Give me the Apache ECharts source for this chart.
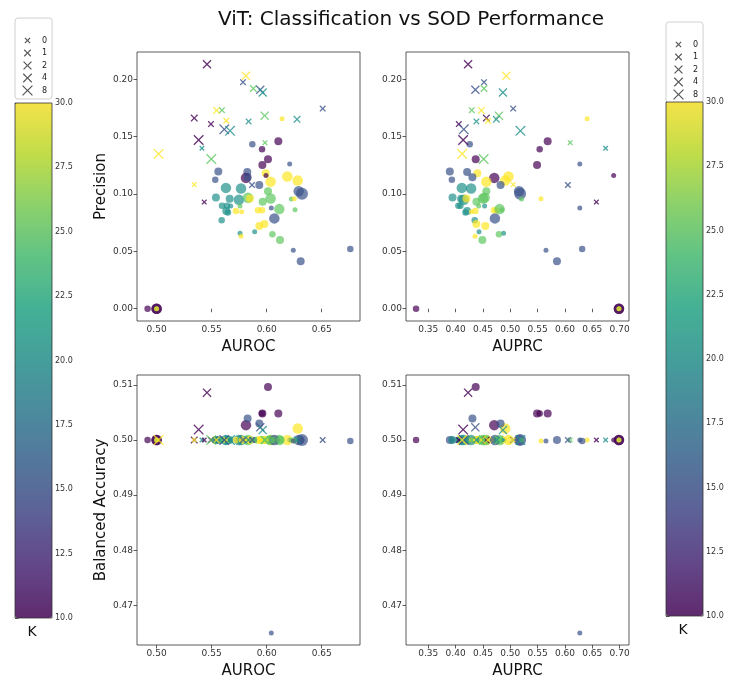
<!DOCTYPE html>
<html><head><meta charset="utf-8">
<script src="https://cdn.jsdelivr.net/npm/echarts@6/dist/echarts.min.js"></script>
<style>html,body{margin:0;padding:0;background:#fff}#c{width:736px;height:684px}</style>
</head><body><div id="c"></div>
<script>
// ---------- tick labels ----------
const kTicks = [10, 12.5, 15, 17.5, 20, 22.5, 25, 27.5, 30];
const aurocTicks = [0.50, 0.55, 0.60, 0.65];
const auprcTicks = [0.35, 0.40, 0.45, 0.50, 0.55, 0.60, 0.65, 0.70];
const precTicks = [0.00, 0.05, 0.10, 0.15, 0.20];
const baccTicks = [0.47, 0.48, 0.49, 0.50, 0.51];
const rLevels = [0, 1, 2, 4, 8];

// ---------- "x" marker runs ----------
const crossAUROC = [0.5458,0.5812,0.5785,0.5879,0.5942,0.5964,0.6509,0.5342,0.5545,0.5594,0.5982,0.6276,0.5633,0.5494,0.5836,0.5615,0.5667,0.5382,0.5412,0.5985,0.5018,0.5497,0.5342,0.5433,0.5867];
const crossAUPRC = [0.4228,0.4926,0.4519,0.4519,0.4361,0.4865,0.5053,0.4562,0.4471,0.4295,0.4792,0.4744,0.4592,0.4058,0.4380,0.4149,0.5186,0.4137,0.6745,0.6096,0.4119,0.4513,0.5053,0.6575,0.6054];
const crossPrec  = [0.2130,0.2029,0.1974,0.1919,0.1908,0.1884,0.1744,0.1661,0.1728,0.1730,0.1682,0.1650,0.1638,0.1609,0.1632,0.1563,0.1550,0.1470,0.1398,0.1447,0.1349,0.1305,0.1082,0.0929,0.1078];
const crossBAcc  = [0.5086,0.5000,0.5000,0.5000,0.5023,0.5018,0.5000,0.5000,0.5000,0.5000,0.5000,0.5000,0.5000,0.5000,0.5000,0.5000,0.5000,0.5019,0.5000,0.5000,0.5000,0.5000,0.5000,0.5000,0.5000];
const crossK     = [10,30,15,25,15,20,15,10,30,25,25,20,30,10,20,15,20,10,20,25,30,25,30,10,15];
const crossR     = [4,4,1,2,4,4,1,2,2,1,4,2,1,1,1,8,8,8,0,0,8,8,0,0,1];

// ---------- circle marker runs ----------
const circAUROC = [0.4918,0.5000,0.5000,0.5000,0.5000,0.6140,0.6106,0.5870,0.5958,0.6012,0.5961,0.6209,0.5561,0.5824,0.5991,0.5994,0.5533,0.5812,0.5827,0.6188,0.6282,0.6036,0.5933,0.5630,0.5767,0.6291,0.6321,0.6012,0.5539,0.5664,0.5748,0.5830,0.5848,0.6036,0.5964,0.6224,0.6251,0.5594,0.5639,0.5673,0.5633,0.5648,0.5758,0.5721,0.5773,0.5921,0.5958,0.6042,0.6115,0.6258,0.5591,0.6070,0.5933,0.5979,0.5758,0.5767,0.5891,0.6052,0.6121,0.6242,0.6309,0.6760];
const circAUPRC = [0.3276,0.6988,0.6988,0.6988,0.6988,0.6406,0.5684,0.4258,0.5538,0.4367,0.5490,0.6272,0.3894,0.4210,0.4398,0.6891,0.3931,0.4707,0.4307,0.4968,0.4907,0.4562,0.4822,0.4113,0.4283,0.5162,0.5180,0.4562,0.3943,0.4100,0.4150,0.4531,0.4198,0.4500,0.4380,0.5205,0.5562,0.4088,0.4050,0.4530,0.4210,0.4180,0.4422,0.4361,0.4290,0.4744,0.4700,0.6272,0.4804,0.4850,0.4349,0.4719,0.4543,0.4380,0.4877,0.4355,0.4428,0.4792,0.4489,0.5653,0.5854,0.6315];
const circPrec  = [0.0000,0.0000,0.0000,0.0000,0.0000,0.1655,0.1459,0.1433,0.1389,0.1302,0.1253,0.1262,0.1195,0.1192,0.1181,0.1160,0.1123,0.1140,0.1146,0.1152,0.1117,0.1106,0.1077,0.1053,0.1048,0.1024,0.1001,0.1024,0.0970,0.0958,0.0949,0.0967,0.0960,0.0961,0.0932,0.0955,0.0958,0.0897,0.0897,0.0894,0.0851,0.0839,0.0894,0.0851,0.0845,0.0857,0.0857,0.0877,0.0868,0.0862,0.0770,0.0787,0.0721,0.0738,0.0657,0.0631,0.0671,0.0648,0.0599,0.0509,0.0414,0.0521];
const circBAcc  = [0.5000,0.5000,0.5000,0.5000,0.5000,0.5000,0.5048,0.5000,0.5048,0.5096,0.5048,0.5000,0.5000,0.5000,0.5000,0.5000,0.5000,0.5027,0.5039,0.5000,0.5021,0.5000,0.5030,0.5000,0.5000,0.5000,0.5000,0.5000,0.5000,0.5000,0.5000,0.5000,0.5000,0.5000,0.5000,0.5000,0.4998,0.5000,0.5000,0.5000,0.5000,0.5000,0.5000,0.5000,0.5000,0.5000,0.5000,0.4650,0.5000,0.5000,0.5000,0.5000,0.5000,0.5000,0.5000,0.5000,0.5000,0.5000,0.5000,0.4998,0.5000,0.4998];
const circK     = [10,10,10,25,30,30,10,15,10,10,10,15,15,15,30,10,15,10,15,30,30,30,15,20,20,15,15,25,20,20,20,25,30,25,25,25,30,20,20,20,20,20,25,30,30,30,30,15,25,25,20,15,30,30,20,30,20,25,25,15,15,15];
const circR     = [1,4,4,0,0,0,2,1,1,2,2,0,2,2,2,0,1,4,2,4,4,4,2,4,4,4,8,2,2,2,4,4,2,4,2,0,0,1,1,0,2,1,0,1,0,1,1,0,4,0,1,4,2,2,0,0,0,1,2,0,2,1];

// ---------- styling helpers ----------
const FONT = 'DejaVu Sans';
const viridis = ['#440154','#482475','#414487','#355f8d','#2a788e','#21918c','#22a884','#44bf70','#7ad151','#bddf26','#fde725'];
function hexA(h, a){const n=parseInt(h.slice(1),16);return `rgba(${n>>16},${(n>>8)&255},${n&255},${a})`;}
const crossPx  = {0:5.5, 1:6.5, 2:7.5, 4:9, 8:10.5};
const circPx   = {0:5, 1:6.5, 2:8, 4:10.5, 8:12};
const legendPx = {0:6, 1:7.3, 2:8.7, 4:9.3, 8:10.7};
function xShape(size, pad, lw){
  const w = (lw || 0.65) / size * 100, d = w * Math.SQRT2;
  const o = pad || 0;
  const pre = o ? `M${-o},${-o}M${100+o},${100+o}` : '';
  return `path://${pre}M0,${d}L${d},0L50,${50-d}L${100-d},0L100,${d}L${50+d},50L100,${100-d}L${100-d},100L50,${50+d}L${d},100L0,${100-d}L${50-d},50Z`;
}
function legendIcon(r){
  const s = legendPx[r]; const box = 11;
  const o = ((box / s) * 100 - 100) / 2;
  return xShape(s, o, 0.6);
}

function rows(xs, ys, ks, rs){ return xs.map((x,i)=>[x, ys[i], ks[i], rs[i]]); }

function xAxisDef(gi, min, max, ticks, name){
  return {type:'value', gridIndex:gi, min, max, name, nameLocation:'middle', nameGap:19,
    nameTextStyle:{fontSize:15, color:'#111', fontFamily:FONT},
    axisLine:{show:false}, splitLine:{show:false},
    axisTick:{show:true, length:3.5, lineStyle:{color:'#333', width:0.8}, customValues:ticks},
    axisLabel:{fontSize:9, color:'#333', fontFamily:FONT, margin:4, customValues:ticks, formatter:v=>v.toFixed(2)}};
}
function yAxisDef(gi, min, max, ticks, name){
  return {type:'value', gridIndex:gi, min, max, name, nameLocation:'middle', nameGap:27, nameRotate:90,
    nameTextStyle:{fontSize:15, color:'#111', fontFamily:FONT},
    axisLine:{show:false}, splitLine:{show:false},
    axisTick:{show:true, length:3.5, lineStyle:{color:'#333', width:0.8}, customValues:ticks},
    axisLabel:{fontSize:9, color:'#333', fontFamily:FONT, margin:4, customValues:ticks, formatter:v=>v.toFixed(2)}};
}
const frame = {show:true, borderColor:'#333', borderWidth:0.8, backgroundColor:'transparent'};

const panels = [
  {xs:[circAUROC, crossAUROC], ys:[circPrec, crossPrec]},
  {xs:[circAUPRC, crossAUPRC], ys:[circPrec, crossPrec]},
  {xs:[circAUROC, crossAUROC], ys:[circBAcc, crossBAcc]},
  {xs:[circAUPRC, crossAUPRC], ys:[circBAcc, crossBAcc]}
];
const series = [];
panels.forEach((p, i) => {
  series.push({type:'scatter', xAxisIndex:i, yAxisIndex:i, name:'circ'+i,
    data: rows(p.xs[0], p.ys[0], circK, circR),
    symbol:'circle', symbolSize: v => circPx[v[3]],
    itemStyle:{opacity:0.7}, emphasis:{disabled:true}, z:2});
  series.push({type:'scatter', xAxisIndex:i, yAxisIndex:i, name:'cross'+i,
    data: rows(p.xs[1], p.ys[1], crossK, crossR),
    symbol: v => xShape(crossPx[v[3]]), symbolSize: v => crossPx[v[3]],
    itemStyle:{opacity:0.8}, emphasis:{disabled:true}, z:3});
});
// legend-only series (marker size encodes r)
rLevels.forEach(r => series.push({type:'scatter', name:String(r), data:[], xAxisIndex:0, yAxisIndex:0, itemStyle:{color:'#555'}}));

function cbAxes(gi){
  return {
    x:{type:'value', gridIndex:gi, min:0, max:1, show:false},
    y:{type:'value', gridIndex:gi, min:10, max:30, interval:2.5, position:'right',
       axisLine:{show:false}, splitLine:{show:false},
       axisTick:{show:true, length:3.5, lineStyle:{color:'#333', width:0.8}},
       axisLabel:{fontSize:8, color:'#333', fontFamily:FONT, margin:3, formatter:v=>v.toFixed(1)}}
  };
}
const cb1 = cbAxes(4), cb2 = cbAxes(5);

function legendDef(left, top){
  return {orient:'vertical', left, top, padding:[17,5,3,7], itemWidth:11, itemHeight:11, itemGap:1.5,
    borderColor:'#d0d0d0', borderWidth:1, borderRadius:3, backgroundColor:'#fff', selectedMode:false,
    textStyle:{fontSize:8, color:'#222', fontFamily:FONT, padding:[0,0,0,4]},
    data: rLevels.map(r => ({name:String(r), icon:legendIcon(r), itemStyle:{color:'#555', opacity:1}}))};
}
function vmDef(left, top, h){
  return {type:'continuous', min:10, max:30, dimension:2, seriesIndex:[0,1,2,3,4,5,6,7],
    left, top, itemWidth:37, itemHeight:h, padding:0, calculable:false, hoverLink:false,
    inRange:{color:viridis}, controller:{inRange:{color:viridis.map(c=>hexA(c,0.8))}}};
}

const option = {
  animation:false,
  backgroundColor:'#fff',
  textStyle:{fontFamily:FONT},
  grid:[
    Object.assign({left:137, top:52, width:223, height:269}, frame),
    Object.assign({left:406, top:52, width:223, height:269}, frame),
    Object.assign({left:137, top:375, width:223, height:270}, frame),
    Object.assign({left:406, top:375, width:223, height:270}, frame),
    Object.assign({left:15, top:103, width:37, height:515, z:10}, frame),
    Object.assign({left:666, top:102, width:37, height:514, z:10}, frame)
  ],
  xAxis:[
    xAxisDef(0, 0.4822, 0.6848, aurocTicks, 'AUROC'),
    xAxisDef(1, 0.3092, 0.7172, auprcTicks, 'AUPRC'),
    xAxisDef(2, 0.4822, 0.6848, aurocTicks, 'AUROC'),
    xAxisDef(3, 0.3092, 0.7172, auprcTicks, 'AUPRC'),
    cb1.x, cb2.x
  ],
  yAxis:[
    yAxisDef(0, -0.0107, 0.2237, precTicks, 'Precision'),
    yAxisDef(1, -0.0107, 0.2237, precTicks, ''),
    yAxisDef(2, 0.4628, 0.5118, baccTicks, 'Balanced Accuracy'),
    yAxisDef(3, 0.4628, 0.5118, baccTicks, ''),
    cb1.y, cb2.y
  ],
  visualMap:[vmDef(15, 103, 515), vmDef(666, 102, 514)],
  legend:[legendDef(15, 18), legendDef(666, 22)],
  graphic:[
    {type:'text', x:411, y:20, style:{text:'ViT: Classification vs SOD Performance', font:`20px "${FONT}"`, fill:'#111', textAlign:'center', textVerticalAlign:'middle'}},
    {type:'text', x:34, y:25, style:{text:'r', font:`8px "${FONT}"`, fill:'#222', textAlign:'center', textVerticalAlign:'middle'}},
    {type:'text', x:685, y:29, style:{text:'r', font:`8px "${FONT}"`, fill:'#222', textAlign:'center', textVerticalAlign:'middle'}},
    {type:'text', x:32, y:632, style:{text:'K', font:`14px "${FONT}"`, fill:'#111', textAlign:'center', textVerticalAlign:'middle'}},
    {type:'text', x:683, y:630, style:{text:'K', font:`14px "${FONT}"`, fill:'#111', textAlign:'center', textVerticalAlign:'middle'}}
  ],
  series
};
const chart = echarts.init(document.getElementById('c'), null, {renderer:'canvas'});
chart.setOption(option);
</script>
</body></html>
